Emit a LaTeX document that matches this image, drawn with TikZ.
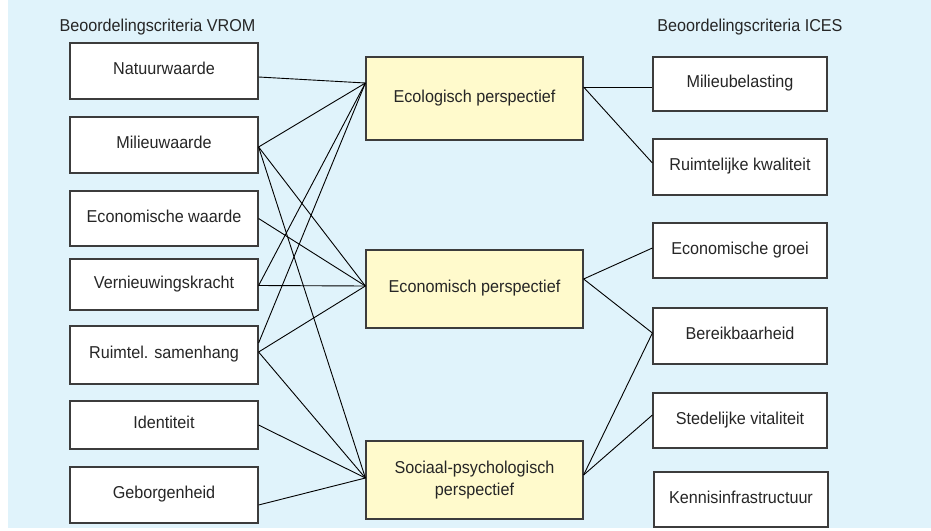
\documentclass[tikz,border=0pt]{standalone}
\usepackage{fontspec}
\setmainfont{Liberation Sans}[FakeStretch=0.94]
\usetikzlibrary{calc}
\definecolor{panelbg}{RGB}{224,243,251}
\definecolor{perspfill}{RGB}{255,250,204}
\definecolor{boxline}{RGB}{60,60,60}
\definecolor{txt}{RGB}{38,38,38}
\begin{document}
\begin{tikzpicture}[x=1pt,y=-1pt,
  every node/.style={font=\fontsize{17.2}{22}\selectfont, text=txt, inner sep=0pt},
  critbox/.style={draw=boxline, fill=white, line width=1.2pt, text height=9.5pt, text depth=2pt},
  leftbox/.style={critbox, minimum width=188pt},
  rightbox/.style={critbox, minimum width=174pt},
  perspbox/.style={draw=boxline, fill=perspfill, line width=1.2pt, minimum width=217pt, align=center},
  link/.style={draw=black, line width=0.9pt},
  heading/.style={anchor=base}
]
\useasboundingbox (0,0) rectangle (931,530);
% panel background
\fill[panelbg] (8,0) rectangle (931,528);

% headings
\node[heading] (hvrom) at (157.5,31) {Beoordelingscriteria VROM};
\node[heading] (hices) at (750,31) {Beoordelingscriteria ICES};

% VROM criteria
\node[leftbox, minimum height=56pt] (nat) at (164,71)    {Natuurwaarde};
\node[leftbox, minimum height=56pt] (mil) at (164,145)   {Milieuwaarde};
\node[leftbox, minimum height=55pt] (eco) at (164,218.5) {Economische waarde};
\node[leftbox, minimum height=51pt] (ver) at (164,284.5) {Vernieuwingskracht};
\node[leftbox, minimum height=58pt] (rui) at (164,355)   {Ruimtel. samenhang};
\node[leftbox, minimum height=48pt] (ide) at (164,425)   {Identiteit};
\node[leftbox, minimum height=56pt] (geb) at (164,495)   {Geborgenheid};

% perspectives
\node[perspbox, minimum height=83pt, text height=9.5pt, text depth=2pt] (pe) at (474.5,98.5) {Ecologisch perspectief};
\node[perspbox, minimum height=78pt, text height=9.5pt, text depth=2pt] (pm) at (474.5,289) {Economisch perspectief};
\node[perspbox, minimum height=78pt] (ps) at (474.5,480) {Sociaal-psychologisch\\perspectief};

% ICES criteria
\node[rightbox, minimum height=54pt] (mb) at (740,84)    {Milieubelasting};
\node[rightbox, minimum height=56pt] (rk) at (740,167)   {Ruimtelijke kwaliteit};
\node[rightbox, minimum height=55pt] (eg) at (740,250.5) {Economische groei};
\node[rightbox, minimum height=56pt] (bb) at (740,336)   {Bereikbaarheid};
\node[rightbox, minimum height=55pt] (sv) at (740,420.5) {Stedelijke vitaliteit};
\node[rightbox, minimum height=55pt] (ki) at (741,499.5) {Kennisinfrastructuur};

% meeting points on the perspective boxes
\coordinate (peIn)  at ([yshift=15.5pt]pe.west);
\coordinate (pmIn)  at ([yshift=3pt]pm.west);
\coordinate (psIn)  at ([yshift=2pt]ps.west);
\coordinate (peOut) at ([yshift=11.5pt]pe.east);
\coordinate (pmOut) at ([yshift=10pt]pm.east);
\coordinate (psOut) at ([yshift=5pt]ps.east);

% VROM criteria -> perspectives
\draw[link] ([yshift=-6pt]nat.east) -- (peIn);
\draw[link] ([yshift=-2pt]mil.east) -- (peIn);
\draw[link] ([yshift=-2pt]mil.east) -- (pmIn);
\draw[link] ([yshift=-2pt]mil.east) -- (psIn);
\draw[link] (eco.east) -- (pmIn);
\draw[link] ([yshift=-1pt]ver.east) -- (pmIn);
\draw[link] ([yshift=-1pt]ver.east) -- (peIn);
\draw[link] ([yshift=12pt]rui.east) -- (peIn);
\draw[link] ([yshift=3pt]rui.east) -- (pmIn);
\draw[link] ([yshift=3pt]rui.east) -- (psIn);
\draw[link] (ide.east) -- (psIn);
\draw[link] ([yshift=-10pt]geb.east) -- (psIn);

% perspectives -> ICES criteria
\draw[link] (peOut) -- ([yshift=-3pt]mb.west);
\draw[link] (peOut) -- ([yshift=4pt]rk.west);
\draw[link] (pmOut) -- ([yshift=2.5pt]eg.west);
\draw[link] (pmOut) -- ([yshift=3pt]bb.west);
\draw[link] (psOut) -- ([yshift=3pt]bb.west);
\draw[link] (psOut) -- ([yshift=5.5pt]sv.west);
\end{tikzpicture}
\end{document}
